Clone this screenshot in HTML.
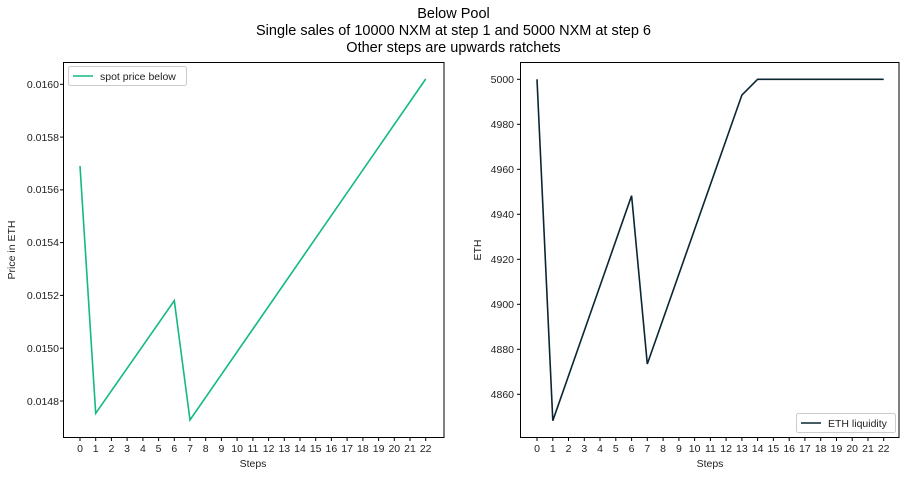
<!DOCTYPE html>
<html><head><style>body{margin:0;background:#fff}</style></head><body>
<svg width="907" height="476" xmlns="http://www.w3.org/2000/svg" font-family="Liberation Sans, DejaVu Sans, sans-serif">
<rect width="907" height="476" fill="#fff"/>
<g font-size="14.5" text-anchor="middle" fill="#000">
<text x="453.5" y="18">Below Pool</text>
<text x="453.5" y="35">Single sales of 10000 NXM at step 1 and 5000 NXM at step 6</text>
<text x="453.5" y="52">Other steps are upwards ratchets</text>
</g>
<g font-size="10.5" fill="#222">
<!-- left axes -->
<rect x="63.5" y="62.5" width="380.5" height="375" fill="none" stroke="#000" stroke-width="1"/>
<g id="lx"></g>
<g text-anchor="end">
<text x="59" y="88">0.0160</text><line x1="60" x2="63.5" y1="84.3" y2="84.3" stroke="#000"/>
<text x="59" y="141">0.0158</text><line x1="60" x2="63.5" y1="137.1" y2="137.1" stroke="#000"/>
<text x="59" y="193">0.0156</text><line x1="60" x2="63.5" y1="189.9" y2="189.9" stroke="#000"/>
<text x="59" y="246">0.0154</text><line x1="60" x2="63.5" y1="242.6" y2="242.6" stroke="#000"/>
<text x="59" y="299">0.0152</text><line x1="60" x2="63.5" y1="295.4" y2="295.4" stroke="#000"/>
<text x="59" y="352">0.0150</text><line x1="60" x2="63.5" y1="348.2" y2="348.2" stroke="#000"/>
<text x="59" y="405">0.0148</text><line x1="60" x2="63.5" y1="401" y2="401" stroke="#000"/>
</g>
<text transform="translate(15,250) rotate(-90)" text-anchor="middle">Price in ETH</text>
<text x="253" y="467" text-anchor="middle">Steps</text>
<polyline points="80,166 95.7,413.3 174.3,300.7 190,420 425.7,79" fill="none" stroke="#13b982" stroke-width="1.6"/>
<rect x="68.5" y="66.5" width="118" height="19" fill="#fff" stroke="#ccc" rx="2"/>
<line x1="73" x2="93" y1="76" y2="76" stroke="#13b982" stroke-width="1.6"/>
<text x="100" y="80">spot price below</text>
<!-- right axes -->
<rect x="520.5" y="62.5" width="378.5" height="375" fill="none" stroke="#000" stroke-width="1"/>
<g text-anchor="end">
<text x="514" y="83">5000</text><line x1="517" x2="520.5" y1="79.3" y2="79.3" stroke="#000"/>
<text x="514" y="128">4980</text><line x1="517" x2="520.5" y1="124.3" y2="124.3" stroke="#000"/>
<text x="514" y="173">4960</text><line x1="517" x2="520.5" y1="169.3" y2="169.3" stroke="#000"/>
<text x="514" y="218">4940</text><line x1="517" x2="520.5" y1="214.3" y2="214.3" stroke="#000"/>
<text x="514" y="263">4920</text><line x1="517" x2="520.5" y1="259.3" y2="259.3" stroke="#000"/>
<text x="514" y="308">4900</text><line x1="517" x2="520.5" y1="304.3" y2="304.3" stroke="#000"/>
<text x="514" y="353">4880</text><line x1="517" x2="520.5" y1="349.3" y2="349.3" stroke="#000"/>
<text x="514" y="398">4860</text><line x1="517" x2="520.5" y1="394.3" y2="394.3" stroke="#000"/>
</g>
<text transform="translate(481,250) rotate(-90)" text-anchor="middle">ETH</text>
<text x="710" y="467" text-anchor="middle">Steps</text>
<polyline points="537,79.3 552.8,420.7 631.6,195.7 647.3,364 741.9,95 757.6,79.3 883.7,79.3" fill="none" stroke="#0b2633" stroke-width="1.6"/>
<rect x="796.5" y="413.5" width="99" height="19" fill="#fff" stroke="#ccc" rx="2"/>
<line x1="801" x2="821" y1="423" y2="423" stroke="#0b2633" stroke-width="1.6"/>
<text x="828" y="427">ETH liquidity</text>
<!-- x ticks -->
<g text-anchor="middle">
<text x="80" y="452">0</text><text x="95.7" y="452">1</text><text x="111.4" y="452">2</text><text x="127.1" y="452">3</text><text x="142.9" y="452">4</text><text x="158.6" y="452">5</text><text x="174.3" y="452">6</text><text x="190" y="452">7</text><text x="205.7" y="452">8</text><text x="221.4" y="452">9</text><text x="237.1" y="452">10</text><text x="252.9" y="452">11</text><text x="268.6" y="452">12</text><text x="284.3" y="452">13</text><text x="300" y="452">14</text><text x="315.7" y="452">15</text><text x="331.4" y="452">16</text><text x="347.1" y="452">17</text><text x="362.9" y="452">18</text><text x="378.6" y="452">19</text><text x="394.3" y="452">20</text><text x="410" y="452">21</text><text x="425.7" y="452">22</text>
<text x="537" y="452">0</text><text x="552.8" y="452">1</text><text x="568.5" y="452">2</text><text x="584.3" y="452">3</text><text x="600" y="452">4</text><text x="615.8" y="452">5</text><text x="631.6" y="452">6</text><text x="647.3" y="452">7</text><text x="663.1" y="452">8</text><text x="678.9" y="452">9</text><text x="694.6" y="452">10</text><text x="710.4" y="452">11</text><text x="726.1" y="452">12</text><text x="741.9" y="452">13</text><text x="757.6" y="452">14</text><text x="773.4" y="452">15</text><text x="789.2" y="452">16</text><text x="804.9" y="452">17</text><text x="820.7" y="452">18</text><text x="836.5" y="452">19</text><text x="852.2" y="452">20</text><text x="868" y="452">21</text><text x="883.7" y="452">22</text>
</g>
<path stroke="#000" d="M80,437.5v3.5M95.7,437.5v3.5M111.4,437.5v3.5M127.1,437.5v3.5M142.9,437.5v3.5M158.6,437.5v3.5M174.3,437.5v3.5M190,437.5v3.5M205.7,437.5v3.5M221.4,437.5v3.5M237.1,437.5v3.5M252.9,437.5v3.5M268.6,437.5v3.5M284.3,437.5v3.5M300,437.5v3.5M315.7,437.5v3.5M331.4,437.5v3.5M347.1,437.5v3.5M362.9,437.5v3.5M378.6,437.5v3.5M394.3,437.5v3.5M410,437.5v3.5M425.7,437.5v3.5M537,437.5v3.5M552.8,437.5v3.5M568.5,437.5v3.5M584.3,437.5v3.5M600,437.5v3.5M615.8,437.5v3.5M631.6,437.5v3.5M647.3,437.5v3.5M663.1,437.5v3.5M678.9,437.5v3.5M694.6,437.5v3.5M710.4,437.5v3.5M726.1,437.5v3.5M741.9,437.5v3.5M757.6,437.5v3.5M773.4,437.5v3.5M789.2,437.5v3.5M804.9,437.5v3.5M820.7,437.5v3.5M836.5,437.5v3.5M852.2,437.5v3.5M868,437.5v3.5M883.7,437.5v3.5"/>
</g>
</svg>
</body></html>
